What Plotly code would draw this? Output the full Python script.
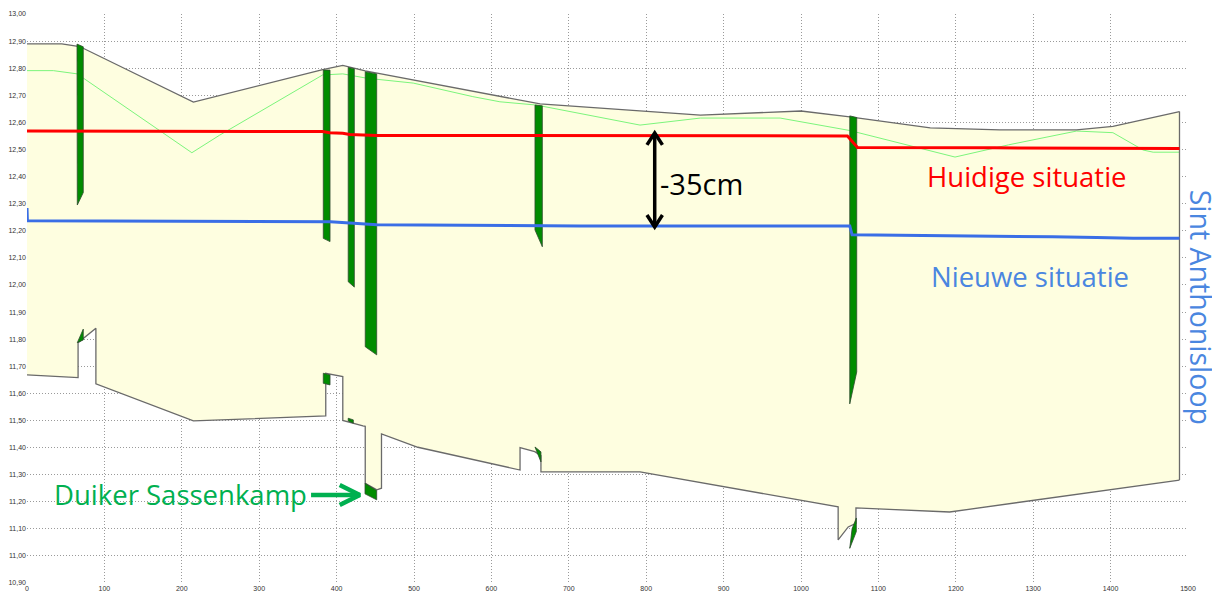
import plotly.graph_objects as go

# ---------------- data ----------------
# ground surface (upper boundary of profile)
top_x = [0, 45, 68, 215, 382, 408, 437, 663, 870, 1000, 1063, 1167, 1257, 1356, 1403, 1489]
top_y = [12.89, 12.89, 12.88, 12.675, 12.795, 12.81, 12.79, 12.668, 12.627, 12.642, 12.62, 12.58, 12.572, 12.572, 12.585, 12.64]

# bed profile (lower boundary of profile)
bed_x = [0, 66, 66, 89, 89, 146, 215, 386, 386, 408, 408, 434, 437, 437, 452, 458, 458, 505,
         637, 637, 656, 664, 664, 792, 1048, 1048, 1061, 1071, 1071, 1192, 1489]
bed_y = [11.668, 11.658, 11.787, 11.84, 11.635, 11.573, 11.498, 11.517, 11.674, 11.662, 11.50, 11.48, 11.478, 11.268, 11.244, 11.25, 11.45, 11.401,
         11.317, 11.40, 11.385, 11.37, 11.31, 11.31, 11.181, 11.059, 11.107, 11.12, 11.177, 11.162, 11.28]

# light green line
wl_x = [0, 34, 65, 73, 213, 249, 382, 408, 439, 499, 576, 611, 658, 792, 870, 973, 1063, 1199, 1268, 1356, 1403, 1442, 1455, 1489]
wl_y = [12.791, 12.791, 12.779, 12.763, 12.488, 12.553, 12.775, 12.779, 12.763, 12.745, 12.695, 12.676, 12.664, 12.59, 12.616, 12.616, 12.57, 12.472, 12.517, 12.568, 12.562, 12.498, 12.49, 12.49]

# current situation (red)
cur_x = [0, 382, 391, 408, 417, 452, 1060, 1073, 1250, 1489]
cur_y = [12.568, 12.566, 12.562, 12.56, 12.555, 12.552, 12.55, 12.507, 12.506, 12.504]

# new situation (blue)
new_x = [0, 0.5, 392, 420, 452, 715, 1063, 1066, 1257, 1325, 1382, 1429, 1489]
new_y = [12.284, 12.237, 12.233, 12.229, 12.222, 12.218, 12.218, 12.185, 12.181, 12.178, 12.175, 12.172, 12.172]

# structures (green)
poles = [
    ([64.6, 72.7, 72.7, 65.0], [12.889, 12.879, 12.341, 12.295]),
    ([65.0, 72.7, 72.7], [11.787, 11.837, 11.797]),
    ([382.8, 391.5, 391.5, 382.8], [12.793, 12.793, 12.160, 12.172]),
    ([382.8, 391.5, 391.5, 382.8], [11.674, 11.668, 11.631, 11.637]),
    ([415.0, 422.9, 422.9, 415.0], [12.803, 12.798, 11.992, 12.012]),
    ([415.0, 421.6, 421.6, 415.0], [11.508, 11.502, 11.49, 11.498]),
    ([437.0, 451.8, 451.8, 437.0], [12.787, 12.779, 11.742, 11.772]),
    ([436.7, 451.8, 451.8, 436.7], [11.268, 11.241, 11.207, 11.229]),
    ([656.3, 665.8, 665.8, 656.3], [12.664, 12.661, 12.141, 12.203]),
    ([656.3, 664.0, 664.0], [11.402, 11.384, 11.347]),
    ([1063.0, 1072.0, 1072.0, 1063.0], [12.624, 12.618, 11.679, 11.561]),
    ([1063.0, 1066.0, 1071.5, 1071.5], [11.028, 11.10, 11.14, 11.09]),
]

# annotation positions
diff_x, diff_y0, diff_y1 = 811, 12.561, 12.214
duiker_arrow_x0, duiker_arrow_x1, duiker_arrow_y = 367, 430, 11.225

GREY = "#6a6a6a"
FILL = "#fefee0"
POLE = "#008c00"
RED = "#ff0000"
BLUE = "#3a6ee6"
TXTBLUE = "#4a86e0"
TXTGREEN = "#00b050"
FONT = "Open Sans"
GRID = "#9a9a9a"

fig = go.Figure()

# profile fill
fig.add_trace(go.Scatter(x=top_x + bed_x[::-1], y=top_y + bed_y[::-1], fill="toself",
                         fillcolor=FILL, line=dict(width=0), mode="lines", hoverinfo="skip"))
# green light line
fig.add_trace(go.Scatter(x=wl_x, y=wl_y, mode="lines", line=dict(color="#7cf57c", width=1)))
# profile outlines
fig.add_trace(go.Scatter(x=top_x, y=top_y, mode="lines", line=dict(color=GREY, width=1.3)))
fig.add_trace(go.Scatter(x=bed_x, y=bed_y, mode="lines", line=dict(color=GREY, width=1.3)))
fig.add_trace(go.Scatter(x=[top_x[-1], bed_x[-1]], y=[top_y[-1], bed_y[-1]], mode="lines",
                         line=dict(color=GREY, width=1.3)))
# structures
for px, py in poles:
    fig.add_trace(go.Scatter(x=px + [px[0]], y=py + [py[0]], fill="toself", fillcolor=POLE,
                             mode="lines", line=dict(color="#2e4a2e", width=0.8)))
# water levels
fig.add_trace(go.Scatter(x=cur_x, y=cur_y, mode="lines", line=dict(color=RED, width=3)))
fig.add_trace(go.Scatter(x=new_x, y=new_y, mode="lines", line=dict(color=BLUE, width=3)))

# double arrow (-35cm)
hx, hy = 10, 0.044
fig.add_trace(go.Scatter(x=[diff_x, diff_x], y=[diff_y0, diff_y1], mode="lines",
                         line=dict(color="black", width=3.5)))
fig.add_trace(go.Scatter(x=[diff_x - hx, diff_x, diff_x + hx], y=[diff_y0 - hy, diff_y0, diff_y0 - hy],
                         mode="lines", line=dict(color="black", width=3.5)))
fig.add_trace(go.Scatter(x=[diff_x - hx, diff_x, diff_x + hx], y=[diff_y1 + hy, diff_y1, diff_y1 + hy],
                         mode="lines", line=dict(color="black", width=3.5)))
# duiker arrow
fig.add_trace(go.Scatter(x=[duiker_arrow_x0, duiker_arrow_x1], y=[duiker_arrow_y] * 2, mode="lines",
                         line=dict(color=TXTGREEN, width=4.5)))
fig.add_trace(go.Scatter(x=[duiker_arrow_x1 - 26, duiker_arrow_x1, duiker_arrow_x1 - 26],
                         y=[duiker_arrow_y + 0.037, duiker_arrow_y, duiker_arrow_y - 0.037],
                         mode="lines", line=dict(color=TXTGREEN, width=4.5)))

fig.add_annotation(x=1292, y=12.402, text="Huidige situatie", showarrow=False,
                   font=dict(family=FONT, size=27.5, color=RED))
fig.add_annotation(x=1296, y=12.033, text="Nieuwe situatie", showarrow=False,
                   font=dict(family=FONT, size=27.5, color=TXTBLUE))
fig.add_annotation(x=872, y=12.373, text="-35cm", showarrow=False,
                   font=dict(family=FONT, size=29, color="black"))
fig.add_annotation(x=198, y=11.225, text="Duiker Sassenkamp", showarrow=False,
                   font=dict(family=FONT, size=27.5, color=TXTGREEN))
fig.add_annotation(xref="paper", yref="paper", x=1.0115, y=0.485, xanchor="center", yanchor="middle",
                   text="Sint Anthonisloop", showarrow=False, textangle=90,
                   font=dict(family=FONT, size=28.5, color=TXTBLUE))

# the page body adds an 8px offset, so the figure is sized to fill the rest of the window
fig.update_layout(
    width=1212, height=584,
    margin=dict(l=19, r=32, t=6, b=9),
    paper_bgcolor="white", plot_bgcolor="white",
    showlegend=False,
    separators=",.",
    xaxis=dict(range=[0, 1500], dtick=100, tick0=0, showgrid=True, gridcolor=GRID,
               griddash="1px,2px", gridwidth=1, zeroline=False, showline=False, automargin=False,
               tickfont=dict(family="Liberation Sans", size=7, color="#333"), ticklen=0),
    yaxis=dict(range=[10.9, 13.0], dtick=0.1, tick0=10.9, tickformat=".2f", showgrid=True,
               gridcolor=GRID, griddash="1px,2px", gridwidth=1, zeroline=False, showline=False,
               automargin=False,
               tickfont=dict(family="Liberation Sans", size=7, color="#333"), ticklen=0),
)

fig.write_html("out.html")
